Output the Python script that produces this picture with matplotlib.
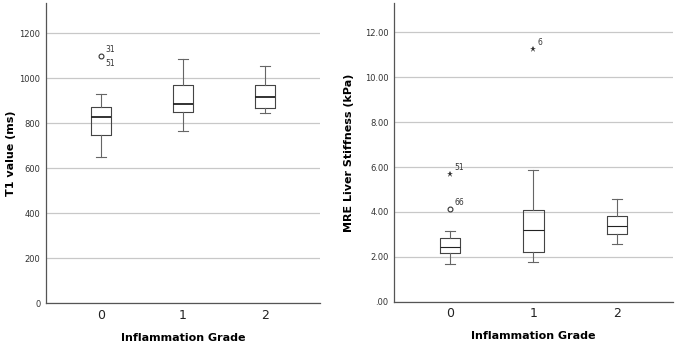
import matplotlib
matplotlib.use("Agg")
import matplotlib.pyplot as plt

grades = [0, 1, 2]

# T1 value (ms): whisker low, Q1, median, Q3, whisker high
t1_wlo = [648, 764, 846]
t1_q1 = [747, 849, 865]
t1_med = [825, 886, 914]
t1_q3 = [870, 970, 969]
t1_whi = [927, 1083, 1053]
t1_out = [(0, 1096, "o", "31", "51")]

# MRE liver stiffness (kPa)
mre_wlo = [1.67, 1.77, 2.56]
mre_q1 = [2.16, 2.20, 3.03]
mre_med = [2.44, 3.21, 3.36]
mre_q3 = [2.82, 4.07, 3.83]
mre_whi = [3.15, 5.88, 4.59]
mre_out = [(0, 4.13, "o", "66", None), (0, 5.70, "*", "51", None), (1, 11.27, "*", "6", None)]

plt.rcParams["font.family"] = ["DejaVu Sans"]
fig = plt.figure(figsize=(6.76, 3.46), dpi=100)
ax1 = fig.add_axes([0.068, 0.124, 0.405, 0.867])
ax2 = fig.add_axes([0.583, 0.128, 0.412, 0.863])


def draw(ax, wlo, q1, med, q3, whi, outs, ymax, ticks, fmt, ylabel, medlw, lx):
    stats = [dict(whislo=a, q1=b, med=c, q3=d, whishi=e, fliers=[])
             for a, b, c, d, e in zip(wlo, q1, med, q3, whi)]
    ax.bxp(stats, positions=grades, widths=0.245, showfliers=False,
           boxprops=dict(color="#444444", lw=0.8),
           whiskerprops=dict(color="#666666", lw=0.8),
           capprops=dict(color="#666666", lw=0.8),
           medianprops=dict(color="#222222", lw=medlw))
    for x, y, m, lab_hi, lab_lo in outs:
        if m == "o":
            ax.plot(x, y, "o", ms=3.5, mfc="white", mec="#333333", mew=0.8)
        else:
            ax.plot(x, y, "*", ms=4.5, color="#333333", mew=0)
        ax.annotate(lab_hi, (x, y), xytext=(3, 3), textcoords="offset points",
                    fontsize=5.5, color="#333333")
        if lab_lo:
            ax.annotate(lab_lo, (x, y), xytext=(3, -7), textcoords="offset points",
                        fontsize=5.5, color="#333333")
    ax.set_xlim(-0.67, 2.67)
    ax.set_ylim(0, ymax)
    ax.set_yticks(ticks)
    ax.set_yticklabels([fmt(t) for t in ticks], fontsize=6, color="#333333")
    ax.set_xticks(grades)
    ax.set_xticklabels([str(g) for g in grades], fontsize=9, color="#222222")
    ax.tick_params(length=0, pad=4)
    ax.grid(axis="y", color="#c8c8c8", lw=0.9)
    ax.set_axisbelow(True)
    for s in ("top", "right"):
        ax.spines[s].set_visible(False)
    for s in ("left", "bottom"):
        ax.spines[s].set_color("#555555")
        ax.spines[s].set_linewidth(0.9)
    ax.set_xlabel("Inflammation Grade", fontsize=8, fontweight="bold", labelpad=8)
    ax.set_ylabel(ylabel, fontsize=8, fontweight="bold")
    ax.yaxis.set_label_coords(lx, 0.5)


draw(ax1, t1_wlo, t1_q1, t1_med, t1_q3, t1_whi, t1_out, 1333,
     [0, 200, 400, 600, 800, 1000, 1200], lambda t: f"{t:.0f}",
     "T1 value (ms)", 1.3, -0.109)
draw(ax2, mre_wlo, mre_q1, mre_med, mre_q3, mre_whi, mre_out, 13.3,
     [0, 2, 4, 6, 8, 10, 12], lambda t: ".00" if t == 0 else f"{t:.2f}",
     "MRE Liver Stiffness (kPa)", 0.8, -0.145)

fig.savefig("out.png", dpi=100)
